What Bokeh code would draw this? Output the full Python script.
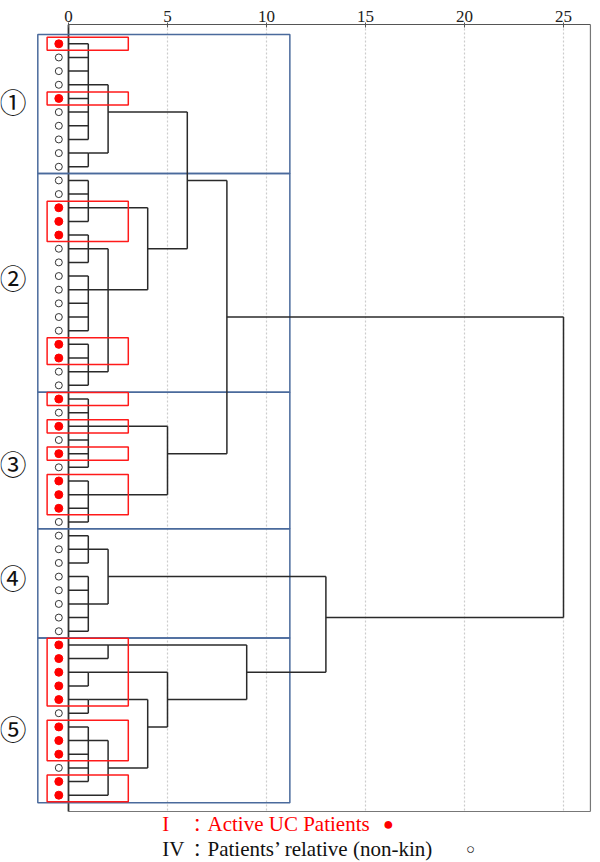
from bokeh.plotting import figure
from bokeh.models import FixedTicker, Range1d
from bokeh.core.properties import value
from bokeh.embed import file_html
from bokeh.resources import INLINE

# ---------------- data ----------------
tick_values = [0, 5, 10, 15, 20, 25]

# 1 = active UC patient (red dot), 0 = patient's relative (open circle); top to bottom
leaf_active = [1, 0, 0, 0, 1, 0, 0, 0, 0, 0,
               0, 0, 1, 1, 1, 0, 0, 0, 0, 0, 0, 0, 1, 1, 0, 0,
               1, 0, 1, 0, 1, 0, 1, 1, 1, 0,
               0, 0, 0, 0, 0, 0, 0, 0,
               1, 1, 1, 1, 1, 0, 1, 1, 1, 0, 1, 1]

# merges (rescaled distance cluster combine)
merge_names = ["A", "B", "C", "E", "F", "G", "I", "H", "J", "D", "L", "M", "N", "K",
               "O", "P", "Q", "S", "V", "W", "Z", "AA", "X", "U", "T", "R", "ROOT"]
merge_heights = [1, 1, 2, 1, 1, 1, 1, 2, 4, 6, 1, 1, 5, 8,
                 1, 1, 2, 2, 1, 1, 1, 2, 4, 5, 9, 13, 25]
merge_rows = [3, 8, 5, 12, 15, 18, 24, 18, 15, 10, 28, 33, 30, 20,
              37, 41, 39, 44, 46, 48, 51, 53, 50, 48, 46, 42, 31]
merge_members = [
    [0, 1, 2, 3, 4, 5, 6, 7], [8, 9], ["A", "B"],
    [10, 11, 12, 13], [14, 15, 16], [17, 18, 19, 20, 21], [22, 23, 24, 25],
    ["F", "G", "I"], ["E", "H"], ["C", "J"],
    [26, 27, 28, 29, 30, 31], [32, 33, 34, 35], ["L", "M"], ["D", "N"],
    [36, 37, 38], [39, 40, 41, 42, 43], ["O", "P"],
    [44, 45], [46, 47], [48, 49], [50, 51, 52, 53, 54], ["Z", 55], ["W", "AA"],
    ["V", "X"], ["S", "U"], ["Q", "T"], ["K", "R"],
]

cluster_first = [0, 10, 26, 36, 44]
cluster_last = [9, 25, 35, 43, 55]
cluster_labels = ["①", "②", "③", "④", "⑤"]
cluster_label_rows = [4.2, 17.1, 30.7, 39.1, 50.1]

active_group_first = [0, 4, 12, 22, 26, 28, 30, 32, 44, 50, 54]
active_group_last = [0, 4, 14, 23, 26, 28, 30, 34, 48, 52, 55]

frame_right_value = 26.36

# ---------------- layout ----------------
W, H = 600, 862
X0_PX = 68.0
PX_PER_UNIT = 19.8
x_start = -X0_PX / PX_PER_UNIT
x_end = x_start + W / PX_PER_UNIT

n_leaves = len(leaf_active)
FRAME_TOP = 24.0
ROW0_PX = 43.3
ROWN_PX = 794.7
row_px = (ROWN_PX - ROW0_PX) / (n_leaves - 1)
y_top = -(ROW0_PX - FRAME_TOP) / row_px
y_bottom = (n_leaves - 1) + (H - ROWN_PX) / row_px


def px_to_row(py):
    return (py - ROW0_PX) / row_px


def px_to_x(px):
    return (px - X0_PX) / PX_PER_UNIT


bottom_row = px_to_row(811)

p = figure(width=W, height=H, output_backend="svg", toolbar_location=None,
           x_range=Range1d(x_start, x_end), y_range=Range1d(y_bottom, y_top),
           x_axis_location="above", y_axis_location=None,
           min_border_left=0, min_border_right=0, min_border_bottom=0,
           min_border_top=int(FRAME_TOP))
p.outline_line_color = None
p.grid.visible = False
p.background_fill_color = "white"

ax = p.xaxis[0]
ax.ticker = FixedTicker(ticks=tick_values)
ax.bounds = (0, frame_right_value)
ax.axis_line_color = "#555555"
ax.axis_line_width = 1.2
ax.major_tick_out = 2
ax.major_tick_in = 3
ax.major_tick_line_color = "#555555"
ax.minor_tick_line_color = None
ax.major_label_text_font = "Liberation Serif"
ax.major_label_text_font_size = "17px"
ax.major_label_text_color = "#222222"
ax.major_label_standoff = 1

# grid (dotted)
n_grid = len(tick_values) - 1
p.segment(x0=tick_values[1:], x1=tick_values[1:], y0=[y_top] * n_grid,
          y1=[bottom_row] * n_grid, line_color="#cccccc", line_width=1.2, line_dash="2 2")

# frame lines
p.segment(x0=[frame_right_value, 0], x1=[frame_right_value, frame_right_value],
          y0=[y_top, bottom_row], y1=[bottom_row, bottom_row],
          line_color="#777777", line_width=1.2)
p.segment(x0=[0], x1=[0], y0=[y_top], y1=[bottom_row], line_color="#333333", line_width=1.8)

# blue cluster boxes
b_top, b_bot = [], []
for i, (f, l) in enumerate(zip(cluster_first, cluster_last)):
    b_top.append(f - (0.68 if i == 0 else 0.5))
    b_bot.append(l + (0.56 if i == len(cluster_first) - 1 else 0.5))
p.quad(left=-1.55, right=11.18, top=b_top, bottom=b_bot, fill_color=None,
       line_color="#4a6a9c", line_width=1.5)

# dendrogram
node_h = {i: 0 for i in range(n_leaves)}
node_r = {i: i for i in range(n_leaves)}
for nm, h, r in zip(merge_names, merge_heights, merge_rows):
    node_h[nm] = h
    node_r[nm] = r
sx0, sx1, sy0, sy1 = [], [], [], []
for nm, h, mem in zip(merge_names, merge_heights, merge_members):
    rows = [node_r[m] for m in mem]
    sx0.append(h); sx1.append(h); sy0.append(min(rows)); sy1.append(max(rows))
    for m in mem:
        sx0.append(node_h[m]); sx1.append(h); sy0.append(node_r[m]); sy1.append(node_r[m])
p.segment(x0=sx0, x1=sx1, y0=sy0, y1=sy1, line_color="#2a2a2a", line_width=1.5)

# red boxes around active patients
p.quad(left=-1.08, right=3.02, top=[f - 0.48 for f in active_group_first],
       bottom=[l + 0.48 for l in active_group_last], fill_color=None,
       line_color="#ff1a1a", line_width=1.5)

# leaves
act_rows = [i for i, a in enumerate(leaf_active) if a]
rel_rows = [i for i, a in enumerate(leaf_active) if not a]
p.scatter(x=[-0.49] * len(rel_rows), y=rel_rows, size=7, fill_color="white",
          line_color="#333333", line_width=1)
p.scatter(x=[-0.49] * len(act_rows), y=act_rows, size=8, fill_color="#ff0000",
          line_color="#ff0000")

# circled cluster numbers
p.text(x=[px_to_x(12.5)] * len(cluster_labels), y=cluster_label_rows, text=cluster_labels,
       text_font=value("Noto Sans CJK JP"), text_font_size="27px",
       text_align="center", text_baseline="middle", text_color="#111111")

# legend text
ly1 = px_to_row(823)
ly2 = px_to_row(848)
serif = value("Liberation Serif")
cjk = value("Noto Sans CJK JP")
legend_rows = [
    (ly1, "#ff0000", "I", "Active UC Patients", "●", 388, "18px"),
    (ly2, "#111111", "IV", "Patients’ relative (non-kin)", "○", 470, "15px"),
]
for ly, col, num, lab, sym, sym_px, sym_size in legend_rows:
    p.text(x=[px_to_x(161.7)], y=[ly], text=[num], text_font=serif, text_font_size="21px",
           text_color=col, text_baseline="middle")
    p.text(x=[px_to_x(196.7)], y=[ly], text=["："], text_font=cjk, text_font_size="18px",
           text_color=col, text_baseline="middle", text_align="center")
    p.text(x=[px_to_x(207)], y=[ly], text=[lab], text_font=serif, text_font_size="21px",
           text_color=col, text_baseline="middle")
    p.text(x=[px_to_x(sym_px)], y=[ly], text=[sym], text_font=serif, text_font_size=sym_size,
           text_color=col, text_baseline="middle", text_align="center")

open("out.html", "w").write(file_html(p, INLINE))
